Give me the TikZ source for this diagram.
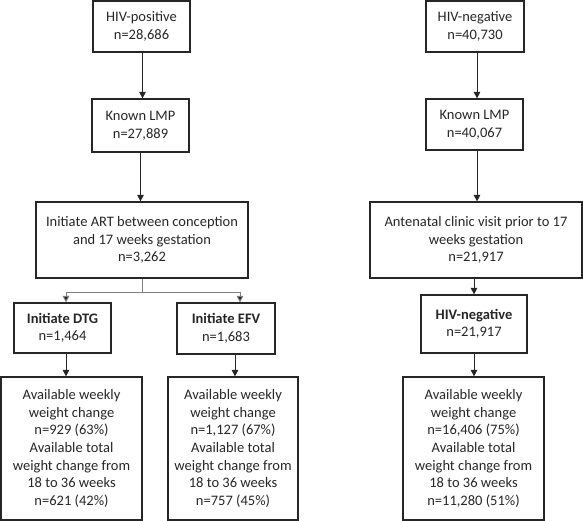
\documentclass[tikz,border=0pt]{standalone}
\usepackage{fontspec}
\setmainfont{Carlito}
\usetikzlibrary{arrows.meta}
\begin{document}
\begin{tikzpicture}[x=1pt,y=-1pt,
  box/.style={draw=black!85,line width=1.2pt,align=center,inner sep=0pt,
    font=\fontsize{14.5}{17.6}\selectfont,text=black!85},
  arr/.style={draw=black!85,line width=0.9pt,-{Triangle[length=6.5pt,width=6.5pt]}},
  brl/.style={draw=black!50,line width=0.9pt},
  bra/.style={draw=black!50,line width=0.9pt,-{Triangle[length=6.5pt,width=6.5pt,fill=black!85]}}]
\useasboundingbox (0,0) rectangle (583,521);
% left column
\node[box,minimum width=97pt,minimum height=51pt] (hp) at (141.5,26.5) {HIV-positive\\n=28,686};
\node[box,minimum width=97pt,minimum height=53pt] (hpl) at (140.5,125.5) {Known LMP\\n=27,889};
\node[box,minimum width=212pt,minimum height=76pt] (art) at (142,240) {Initiate ART between conception\\and 17 weeks gestation\\n=3,262};
\node[box,minimum width=97pt,minimum height=50pt] (dtg) at (62.5,328) {\textbf{Initiate DTG}\\n=1,464};
\node[box,minimum width=98pt,minimum height=51pt] (efv) at (226,328.5) {\textbf{Initiate EFV}\\n=1,683};
\node[box,minimum width=141pt,minimum height=143pt] (dtgb) at (71.5,448.5) {Available weekly\\weight change\\n=929 (63\%)\\Available total\\weight change from\\18 to 36 weeks\\n=621 (42\%)};
\node[box,minimum width=130pt,minimum height=143pt] (efvb) at (233,448.5) {Available weekly\\weight change\\n=1,127 (67\%)\\Available total\\weight change from\\18 to 36 weeks\\n=757 (45\%)};
% right column
\node[box,minimum width=98pt,minimum height=51pt] (hn) at (475,26.5) {HIV-negative\\n=40,730};
\node[box,minimum width=97pt,minimum height=51pt] (hnl) at (474.5,124.5) {Known LMP\\n=40,067};
\node[box,minimum width=212pt,minimum height=76pt] (ant) at (476,240) {Antenatal clinic visit prior to 17\\weeks gestation\\n=21,917};
\node[box,minimum width=106pt,minimum height=58pt] (hnb) at (474,324) {\textbf{HIV-negative}\\n=21,917};
\node[box,minimum width=141pt,minimum height=143pt] (hnbb) at (473.5,448.5) {Available weekly\\weight change\\n=16,406 (75\%)\\Available total\\weight change from\\18 to 36 weeks\\n=11,280 (51\%)};
% connectors
\draw[arr] ([xshift=1pt]hp.south) -- ([xshift=2pt]hpl.north);
\draw[arr] (hpl.south) -- (hpl.south |- art.north);
\coordinate (br) at (142,292);
\draw[brl] (art.south) -- (br);
\draw[bra] (br) -| ([xshift=3.5pt]dtg.north);
\draw[bra] (br) -| ([xshift=14pt]efv.north);
\draw[arr] ([xshift=3.5pt]dtg.south) -- ([xshift=3.5pt]dtg.south |- dtgb.north);
\draw[arr] ([xshift=9pt]efv.south) -- ([xshift=9pt]efv.south |- efvb.north);
\draw[arr] ([xshift=2pt]hn.south) -- ([xshift=2pt]hn.south |- hnl.north);
\draw[arr] ([xshift=2.5pt]hnl.south) -- ([xshift=2.5pt]hnl.south |- ant.north);
\draw[arr] ([xshift=-2pt]ant.south) -- ([xshift=-2pt]ant.south |- hnb.north);
\draw[arr] (hnb.south) -- (hnb.south |- hnbb.north);
\end{tikzpicture}
\end{document}
